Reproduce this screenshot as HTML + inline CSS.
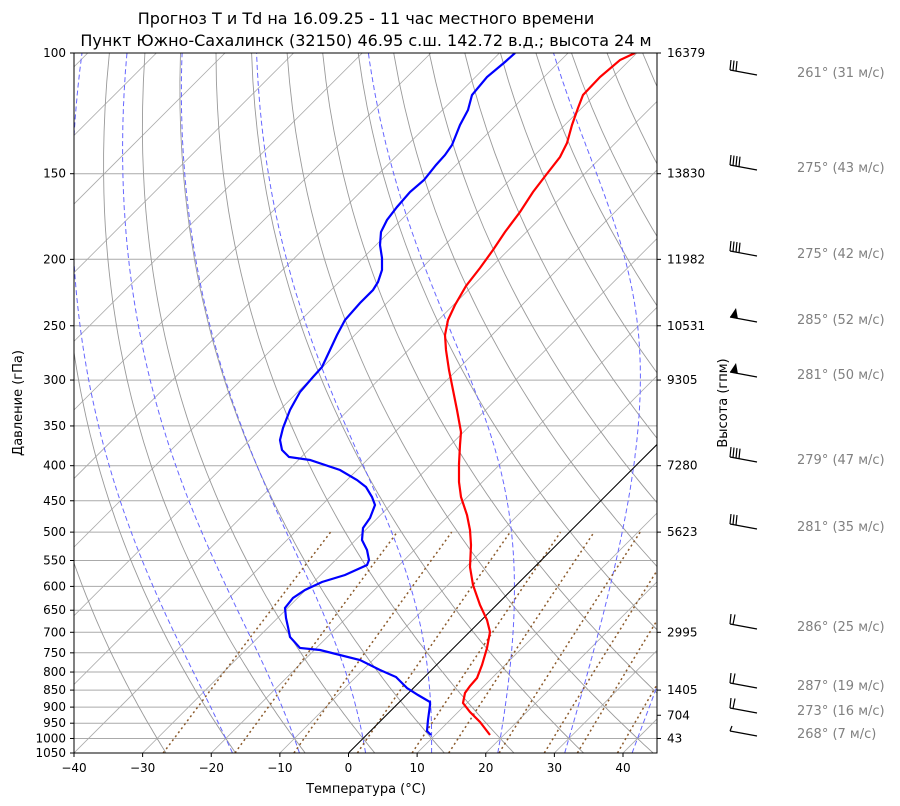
<!DOCTYPE html>
<html><head><meta charset="utf-8"><style>
body{margin:0;background:#fff;}
svg{display:block;font-family:"DejaVu Sans","Liberation Sans",sans-serif;}
</style></head><body>
<svg id="s" width="900" height="806" xmlns="http://www.w3.org/2000/svg">
<defs><clipPath id="c"><rect x="74" y="53" width="583" height="700"/></clipPath></defs>
<g id="grid" clip-path="url(#c)"></g>
<g id="fg"></g>
<text x="366" y="24" font-size="16" text-anchor="middle">Прогноз T и Td на 16.09.25 - 11 час местного времени</text>
<text x="366" y="46" font-size="16" text-anchor="middle">Пункт Южно-Сахалинск (32150) 46.95 с.ш. 142.72 в.д.; высота 24 м</text>
<text x="366" y="793" font-size="13" text-anchor="middle">Температура (°C)</text>
<text transform="translate(22,403) rotate(-90)" font-size="13" text-anchor="middle">Давление (гПа)</text>
<text transform="translate(727,403) rotate(-90)" font-size="13" text-anchor="middle">Высота (гпм)</text>
</svg>
<script>
var NS="http://www.w3.org/2000/svg";
function el(p,t,a,txt){var e=document.createElementNS(NS,t);for(var k in a)e.setAttribute(k,a[k]);if(txt!==undefined)e.textContent=txt;p.appendChild(e);return e;}
var G=document.getElementById('grid'),F=document.getElementById('fg');
var L=Math.log(10.5);
function Y(p){return 53+Math.log(p/100)/L*700;}
function X(T,p){return 348.5+T*6.8625+(753-Y(p));}
function pl(pts,st){var d=pts.map(function(q,i){return (i?'L':'M')+q[0].toFixed(1)+' '+q[1].toFixed(1);}).join('');el(G,'path',Object.assign({d:d,fill:'none'},st));}
var ps=[];for(var p=1050;p>=100;p-=10)ps.push(p);
var ticks=[100,150,200,250,300,350,400,450,500,550,600,650,700,750,800,850,900,950,1000,1050];
ticks.forEach(function(p){pl([[74,Y(p)],[657,Y(p)]],{stroke:'#aaa','stroke-width':1});});
for(var T=-150;T<=50;T+=10){pl([[X(T,1050),Y(1050)],[X(T,100),Y(100)]],{stroke:'#aaa','stroke-width':0.8});}
for(var th=-30;th<=250;th+=10){var pts=ps.map(function(p){var t=(th+273.15)*Math.pow(p/1000,0.2857)-273.15;return [X(t,p),Y(p)];});pl(pts,{stroke:'#999','stroke-width':0.9});}
function rs(T,p){var e=6.112*Math.exp(17.67*(T-273.15)/(T-29.65));return 0.622*e/(p-e);}
function dTdp(T,p){var r=rs(T,p),Rd=287,Lv=2.5e6,cp=1005;return (Rd*T+Lv*r)/p/(cp+Lv*Lv*r*0.622/(Rd*T*T));}
for(var t0=-20;t0<=45;t0+=10){var T=t0+273.15,pts=[],p=1000;
 var T2=T;for(var q=1000;q<1050;q+=1){T2+=dTdp(T2,q);} pts.push([X(T2-273.15,1050),Y(1050)]);
 for(p=1000;p>=100;p-=1){pts.push([X(T-273.15,p),Y(p)]);T-=dTdp(T,p);}
 pl(pts,{stroke:'#66f','stroke-width':1,'stroke-dasharray':'5,3'});}
[0.0004,0.001,0.002,0.004,0.007,0.01,0.016,0.024,0.032,0.045].forEach(function(w){var pts=[];for(var p=1050;p>=500;p-=25){var e=w*p/(0.622+w),l=Math.log(e/6.112),td=243.5*l/(17.67-l);pts.push([X(td,p),Y(p)]);}pl(pts,{stroke:'#8b5a2b','stroke-width':1.5,'stroke-dasharray':'2,3'});});
pl([[X(0,1050),Y(1050)],[X(0,100),Y(100)]],{stroke:'#000','stroke-width':1});
var red=[[490,735],[480,722],[470,712],[463,703],[465,693],[470,686],[477,678],[482,665],[487,648],[490,632],[487,620],[480,605],[473,585],[470,567],[471,545],[470,530],[467,515],[461,497],[459,482],[459,464],[460,445],[461,432],[457,410],[453,390],[449,370],[446,350],[445,335],[448,320],[455,305],[466,286],[480,268],[493,250],[505,232],[520,212],[533,192],[546,175],[560,157],[567,143],[572,125],[578,108],[583,95],[600,77],[620,60],[635,53]];
var blue=[[431,735],[427,731],[428,720],[430,705],[430,702],[418,695],[407,688],[396,677],[380,670],[360,660],[320,650],[300,648],[290,637],[288,627],[286,618],[285,608],[293,598],[305,590],[322,582],[345,575],[367,565],[369,560],[367,550],[362,540],[363,528],[370,518],[375,505],[372,497],[366,487],[357,480],[340,470],[310,460],[289,457],[282,450],[280,440],[283,428],[290,410],[300,392],[313,377],[322,367],[330,350],[337,335],[345,320],[360,303],[373,290],[378,282],[382,270],[382,258],[380,245],[381,232],[387,220],[397,207],[410,192],[424,180],[436,165],[445,155],[452,145],[460,125],[468,110],[472,95],[487,77],[505,62],[515,53]];
pl(red,{stroke:'#f00','stroke-width':2.2});pl(blue,{stroke:'#00f','stroke-width':2.2});
el(F,'rect',{x:74,y:53,width:583,height:700,fill:'none',stroke:'#000','stroke-width':1});
ticks.forEach(function(p){var y=Y(p);el(F,'line',{x1:70,y1:y,x2:74,y2:y,stroke:'#000'});el(F,'text',{x:66,y:y+4,'font-size':12,'text-anchor':'end'},p);});
for(var t=-40;t<=40;t+=10){var x=348.5+t*6.8625;el(F,'line',{x1:x,y1:753,x2:x,y2:757,stroke:'#000'});el(F,'text',{x:x,y:772,'font-size':12,'text-anchor':'middle'},t==0?'0':(t<0?'\u2212'+(-t):t));}
var H={100:16379,150:13830,200:11982,250:10531,300:9305,400:7280,500:5623,700:2995,850:1405,925:704,1000:43};
for(var p in H){var y=Y(+p);el(F,'line',{x1:657,y1:y,x2:661,y2:y,stroke:'#000'});el(F,'text',{x:667,y:y+4,'font-size':12},H[p]);}
var W=[[73,'261° (31 м/с)',3],[168,'275° (43 м/с)',4],[254,'275° (42 м/с)',4],[320,'285° (52 м/с)',-1],[375,'281° (50 м/с)',-1],[460,'279° (47 м/с)',4],[527,'281° (35 м/с)',3],[627,'286° (25 м/с)',2],[686,'287° (19 м/с)',2],[711,'273° (16 м/с)',2],[734,'268° (7 м/с)',1]];
W.forEach(function(w){var y=w[0];el(F,'line',{x1:730,y1:y-3,x2:757,y2:y+2,stroke:'#000','stroke-width':1.2});
 if(w[2]<0){el(F,'path',{d:'M730 '+(y-3)+'L736 '+(y-12)+'L738 '+(y-1)+'Z',fill:'#000'});}
 else for(var i=0;i<w[2];i++){var bx=730+i*3,by=y-3+i*0.55;el(F,'line',{x1:bx,y1:by,x2:bx+(i==w[2]-1&&w[2]<3?2:1),y2:by-(w[2]==1?5:10),stroke:'#000','stroke-width':1.2});}
 el(F,'text',{x:797,y:y+4,'font-size':13,fill:'#808080'},w[1]);});
</script>
</body></html>
